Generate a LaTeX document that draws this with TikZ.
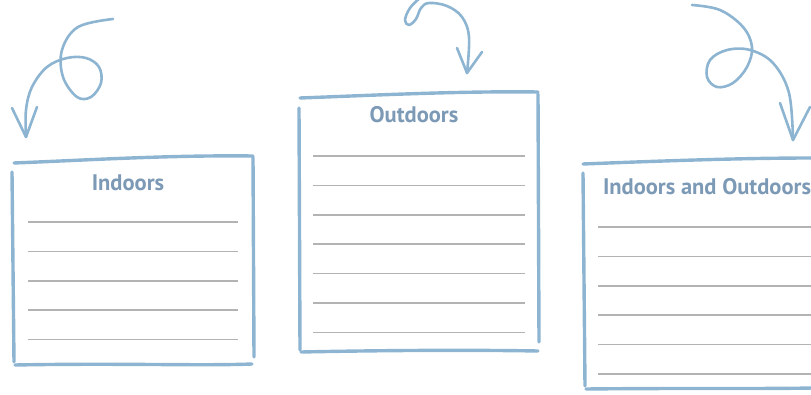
\documentclass[tikz,border=0pt]{standalone}
\usepackage{fontspec}
\setmainfont{PT Sans}
\usepackage{tikz}
\usetikzlibrary{positioning}
\definecolor{frameblue}{HTML}{8DB4D1}
\definecolor{titleblue}{HTML}{7C99B6}
\definecolor{rulegray}{HTML}{B3B3B3}

\begin{document}
\begin{tikzpicture}[x=1pt, y=-1pt,
  frame/.style={line width=3.4pt, frameblue, line cap=round, line join=round},
  curl/.style={line width=2.6pt, frameblue, line cap=round, line join=round},
  rule/.style={line width=1.5pt, rulegray},
  title/.style={font=\bfseries\fontsize{22.5}{24}\selectfont, text=titleblue, inner sep=0pt}]

  \useasboundingbox (0,0) rectangle (811,395);

  \def\d{29.4};

	%indoors box
  \draw[frame] (14,163) .. controls (90,160) and (170,155) .. (253,156);
  \draw[frame] (253,157) -- (254,357);
  \draw[frame] (12,172) -- (14,362);
  \draw[frame] (15,365) .. controls (120,363) and (200,366) .. (252,364);
  \node[title] (indoors) at (128,183) {Indoors};
    \foreach \i in {0,...,4}{
         \draw[rule] (28,222+\i*\d) -- (238,222+\i*\d);
    }

	%outdoors box
  \draw[frame] (300,98) .. controls (380,95) and (460,91) .. (538,92);
  \draw[frame] (538,94) -- (539,342);
  \draw[frame] (299,108) -- (300,350);
  \draw[frame] (301,352) .. controls (400,350) and (480,350) .. (538,351);
  \node[title] (outdoors) at (414,115) {Outdoors};
    \foreach \i in {0,...,6}{
         \draw[rule] (313,156+\i*\d) -- (525,156+\i*\d);
    }

	%both box
  \draw[frame] (583,164) .. controls (660,161) and (740,158) .. (813,158);
  \draw[frame] (583,173) -- (585,386);
  \draw[frame] (586,389) .. controls (680,388) and (760,389) .. (813,388);
  \node[title] (both) at (707,187) {Indoors and Outdoors};
    \foreach \i in {0,...,5}{
         \draw[rule] (598,227+\i*\d) -- (813,227+\i*\d);
    }

	%curly arrows
  \coordinate (tipA) at (26,137);
  \coordinate (tipB) at (467,73);
  \coordinate (tipC) at (793,140);

  \draw[curl] plot[smooth, tension=0.6] coordinates {(113,19) (78,27) (62,50) (63,77) (77,97) (91,97) (101,83) (99,67) (86,58) (67,58) (47,67) (32,87) (26,110) (tipA)};
  \draw[curl] (12,108) -- (tipA) -- (37,107);

  \draw[curl] plot[smooth, tension=0.6] coordinates {(421,-3) (410,8) (405,20) (409,25) (416,19) (421,8) (429,3) (447,6) (462,17) (469,37) (tipB)};
  \draw[curl] (457,48) -- (tipB) -- (482,52);

  \draw[curl] plot[smooth, tension=0.6] coordinates {(692,5) (720,10) (743,27) (752,47) (747,67) (733,83) (717,87) (707,77) (710,60) (727,50) (750,50) (773,63) (789,93) (tipC)};
  \draw[curl] (780,103) -- (tipC) -- (810,107);

\end{tikzpicture}
\end{document}
